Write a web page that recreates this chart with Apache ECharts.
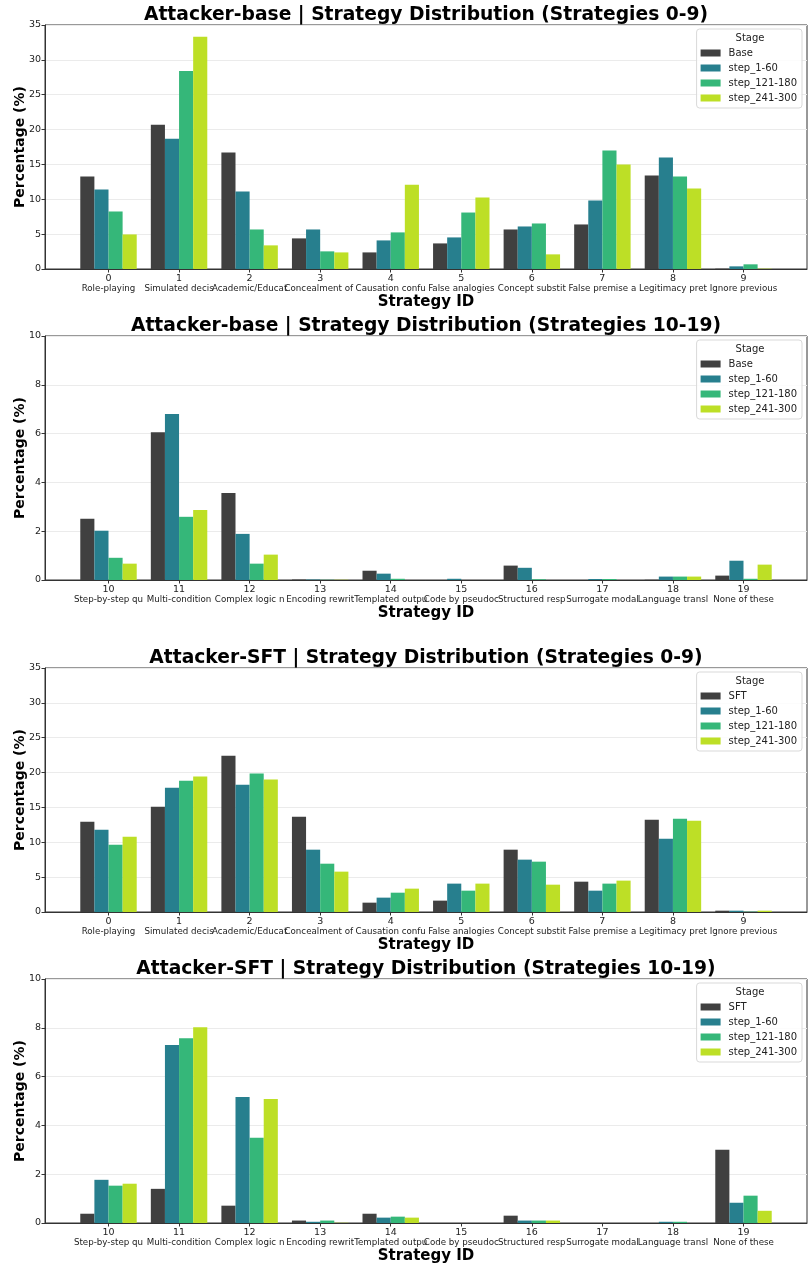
<!DOCTYPE html>
<html><head><meta charset="utf-8">
<script src="https://cdn.jsdelivr.net/npm/echarts@6/dist/echarts.min.js"></script>
<style>html,body{margin:0;padding:0;background:#fff}#c{width:811px;height:1266px}</style>
</head><body><div id="c"></div>
<script>
const ids0 = [0,1,2,3,4,5,6,7,8,9];
const ids1 = [10,11,12,13,14,15,16,17,18,19];
const names0 = ['Role-playing','Simulated decis','Academic/Educat','Concealment of ','Causation confu','False analogies','Concept substit','False premise a','Legitimacy pret','Ignore previous'];
const names1 = ['Step-by-step qu','Multi-condition','Complex logic n','Encoding rewrit','Templated outpu','Code by pseudoc','Structured resp','Surrogate modal','Language transl','None of these'];
const stages = ['step_1-60','step_121-180','step_241-300'];

// Attacker-base, strategies 0-9
const baseA_base = [13.26,20.7,16.7,4.39,2.38,3.67,5.67,6.39,13.4,0.05];
const baseA_s1   = [11.4,18.7,11.1,5.67,4.1,4.53,6.1,9.82,16.0,0.38];
const baseA_s121 = [8.25,28.4,5.67,2.53,5.25,8.1,6.53,17.0,13.26,0.67];
const baseA_s241 = [4.96,33.3,3.39,2.38,12.1,10.25,2.1,15.0,11.54,0.05];
// Attacker-base, strategies 10-19
const baseB_base = [2.51,6.06,3.57,0.02,0.38,0.0,0.59,0.0,0.01,0.18];
const baseB_s1   = [2.02,6.80,1.89,0.02,0.26,0.05,0.50,0.04,0.14,0.79];
const baseB_s121 = [0.91,2.59,0.67,0.01,0.05,0.0,0.03,0.04,0.14,0.05];
const baseB_s241 = [0.67,2.87,1.04,0.01,0.0,0.0,0.0,0.0,0.14,0.63];
// Attacker-SFT, strategies 0-9
const sftA_sft  = [12.96,15.11,22.43,13.68,1.34,1.63,8.94,4.35,13.25,0.19];
const sftA_s1   = [11.81,17.84,18.27,8.94,2.06,4.07,7.51,3.06,10.52,0.19];
const sftA_s121 = [9.66,18.84,19.85,6.93,2.77,3.06,7.22,4.07,13.39,0.05];
const sftA_s241 = [10.81,19.42,18.99,5.79,3.35,4.07,3.92,4.5,13.10,0.19];
// Attacker-SFT, strategies 10-19
const sftB_sft  = [0.38,1.40,0.71,0.10,0.38,0.0,0.30,0.0,0.0,3.0];
const sftB_s1   = [1.77,7.29,5.16,0.05,0.22,0.0,0.10,0.0,0.05,0.83];
const sftB_s121 = [1.53,7.57,3.49,0.10,0.26,0.0,0.10,0.0,0.05,1.12];
const sftB_s241 = [1.61,8.02,5.08,0.01,0.22,0.0,0.10,0.0,0.0,0.50];

const yTicks0 = {max:35, interval:5};
const yTicks1 = {max:10, interval:2};
const colors = ['#404040','#277f8e','#35b779','#bddf26'];
const FF = 'DejaVu Sans';

const panels = [
  {title:'Attacker-base | Strategy Distribution (Strategies 0-9)', ids:ids0, names:names0, first:'Base', vals:[baseA_base,baseA_s1,baseA_s121,baseA_s241], y:yTicks0, top:25},
  {title:'Attacker-base | Strategy Distribution (Strategies 10-19)', ids:ids1, names:names1, first:'Base', vals:[baseB_base,baseB_s1,baseB_s121,baseB_s241], y:yTicks1, top:336},
  {title:'Attacker-SFT | Strategy Distribution (Strategies 0-9)', ids:ids0, names:names0, first:'SFT', vals:[sftA_sft,sftA_s1,sftA_s121,sftA_s241], y:yTicks0, top:668},
  {title:'Attacker-SFT | Strategy Distribution (Strategies 10-19)', ids:ids1, names:names1, first:'SFT', vals:[sftB_sft,sftB_s1,sftB_s121,sftB_s241], y:yTicks1, top:979}
];
const H = 244, L = 45, R = 4;

const option = {animation:false, backgroundColor:'#fff', title:[], grid:[], xAxis:[], yAxis:[], series:[], legend:[], graphic:[]};
panels.forEach((p, k) => {
  const legendNames = [p.first].concat(stages);
  option.title.push({text:p.title, left:(L+811-R)/2, textAlign:'center', top:p.top-20, padding:0,
    textStyle:{fontFamily:FF, fontSize:18.7, fontWeight:'bold', color:'#000', lineHeight:20}});
  option.grid.push({left:L, right:R, top:p.top, height:H, show:true, borderColor:'#333', borderWidth:1, containLabel:false});
  option.xAxis.push({type:'value', gridIndex:k, min:p.ids[0]-0.9, max:p.ids[p.ids.length-1]+0.9,
    name:'Strategy ID', nameLocation:'middle', nameGap:25,
    nameTextStyle:{fontFamily:FF, fontSize:15, fontWeight:'bold', color:'#000'},
    axisLine:{show:true, onZero:false, lineStyle:{color:'#333', width:1}},
    axisTick:{show:true, length:3.5, lineStyle:{color:'#333'}, customValues:p.ids},
    splitLine:{show:false},
    axisLabel:{customValues:p.ids, margin:5, hideOverlap:false,
      formatter:(v) => { const i = p.ids.indexOf(Math.round(v)); return '{a|' + Math.round(v) + '}\n{b|' + p.names[i] + '}'; },
      rich:{a:{fontFamily:FF, fontSize:9.5, lineHeight:10, color:'#222'}, b:{fontFamily:FF, fontSize:8.7, lineHeight:10, color:'#222'}}}
  });
  option.yAxis.push({type:'value', gridIndex:k, min:0, max:p.y.max, interval:p.y.interval,
    name:'Percentage (%)', nameLocation:'middle', nameGap:18, nameMoveOverlap:false,
    nameTextStyle:{fontFamily:FF, fontSize:14, fontWeight:'bold', color:'#000'},
    axisLine:{show:true, onZero:false, lineStyle:{color:'#333', width:1}},
    axisTick:{show:true, length:3.5, lineStyle:{color:'#333'}},
    axisLabel:{fontFamily:FF, fontSize:9.5, color:'#222', margin:4},
    splitLine:{show:true, lineStyle:{color:'#ebebeb', width:1}}
  });
  p.vals.forEach((arr, s) => {
    option.series.push({type:'bar', name:legendNames[s], xAxisIndex:k, yAxisIndex:k,
      barGap:'0%', barCategoryGap:'20%', itemStyle:{color:colors[s]},
      data:p.ids.map((id, i) => [id, arr[i]])});
  });
  option.legend.push({data:legendNames, orient:'vertical', right:9, top:p.top+4,
    itemWidth:20, itemHeight:7, itemGap:3, padding:[18,5,4,4], selectedMode:false,
    borderColor:'#d9d9d9', borderWidth:1, borderRadius:3, backgroundColor:'rgba(255,255,255,0.85)',
    icon:'rect', textStyle:{fontFamily:FF, fontSize:10, color:'#222', lineHeight:12, padding:[0,0,0,3]}});
  option.graphic.push({type:'text', x:750, y:p.top+13, z:100,
    style:{text:'Stage', fontFamily:FF, fontSize:10, fill:'#222', textAlign:'center', textVerticalAlign:'middle'}});
});
const chart = echarts.init(document.getElementById('c'), null, {renderer:'canvas'});
chart.setOption(option);
</script></body></html>
